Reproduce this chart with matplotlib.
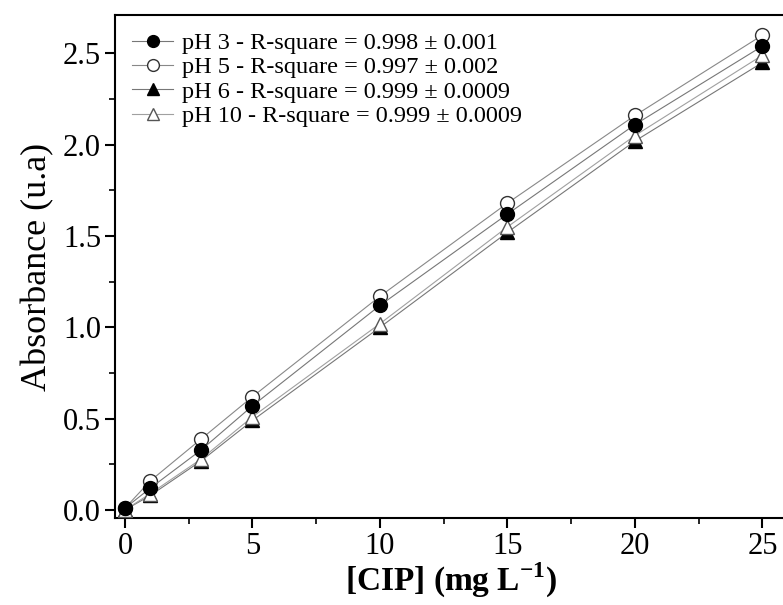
import matplotlib
matplotlib.use("Agg")
import matplotlib.pyplot as plt
from matplotlib.ticker import MultipleLocator, FormatStrFormatter

plt.rcParams['font.family'] = ['Liberation Serif', 'DejaVu Serif']
plt.rcParams['mathtext.fontset'] = 'custom'
plt.rcParams['mathtext.rm'] = 'Liberation Serif'
plt.rcParams['mathtext.bf'] = 'Liberation Serif:bold'

conc = [0, 1, 3, 5, 10, 15, 20, 25]
ph3 = [0.01, 0.12, 0.33, 0.57, 1.12, 1.62, 2.11, 2.54]
ph5 = [0.01, 0.16, 0.39, 0.62, 1.17, 1.68, 2.16, 2.60]
ph6 = [0.00, 0.08, 0.27, 0.49, 1.00, 1.52, 2.02, 2.45]
ph10 = [0.00, 0.09, 0.28, 0.51, 1.02, 1.55, 2.05, 2.49]
labels = ["pH 3 - R-square = 0.998 \u00b1 0.001",
          "pH 5 - R-square = 0.997 \u00b1 0.002",
          "pH 6 - R-square = 0.999 \u00b1 0.0009",
          "pH 10 - R-square = 0.999 \u00b1 0.0009"]

W, H = 783, 605
fig = plt.figure(figsize=(W/100, H/100), dpi=100)
ax = fig.add_axes([115/W, 87/H, (788-115)/W, (518-15)/H])

h6, = ax.plot(conc, ph6, '-', color='#777777', lw=0.8, marker='^', ms=10,
              mfc='black', mec='black', zorder=2)
h10, = ax.plot(conc, ph10, '-', color='#a0a0a0', lw=0.8, marker='^', ms=10,
               mfc='white', mec='#555555', mew=1.0, zorder=3)
h5, = ax.plot(conc, ph5, '-', color='#888888', lw=0.8, marker='o', ms=10,
              mfc='white', mec='#333333', mew=1.0, zorder=4)
h3, = ax.plot(conc, ph3, '-', color='#777777', lw=0.8, marker='o', ms=10,
              mfc='black', mec='black', zorder=5)

ax.set_xlim(-0.39, 26.0)
ax.set_ylim(-0.044, 2.71)
ax.xaxis.set_major_locator(MultipleLocator(5))
ax.xaxis.set_minor_locator(MultipleLocator(2.5))
ax.yaxis.set_major_locator(MultipleLocator(0.5))
ax.yaxis.set_minor_locator(MultipleLocator(0.25))
ax.yaxis.set_major_formatter(FormatStrFormatter('%.1f'))
ax.tick_params(which='major', direction='out', length=7, width=1.5, labelsize=22, pad=3)
ax.tick_params(which='minor', direction='out', length=4, width=1.2)
ax.tick_params(top=False, right=False)
for s in ax.spines.values():
    s.set_linewidth(1.5)

ax.set_ylabel("Absorbance (u.a)", fontsize=26, labelpad=6)
ax.set_xlabel(r"[CIP] (mg L$^{\mathbf{-1}}$)", fontsize=24, fontweight='bold', labelpad=0)

leg = ax.legend([h3, h5, h6, h10], labels, loc='upper left',
                bbox_to_anchor=(0.0, 1.0), frameon=False, fontsize=17.5,
                handlelength=1.7, handletextpad=0.35, labelspacing=0.1,
                borderaxespad=0.3, markerscale=0.85)

fig.savefig("out.png", dpi=100)
